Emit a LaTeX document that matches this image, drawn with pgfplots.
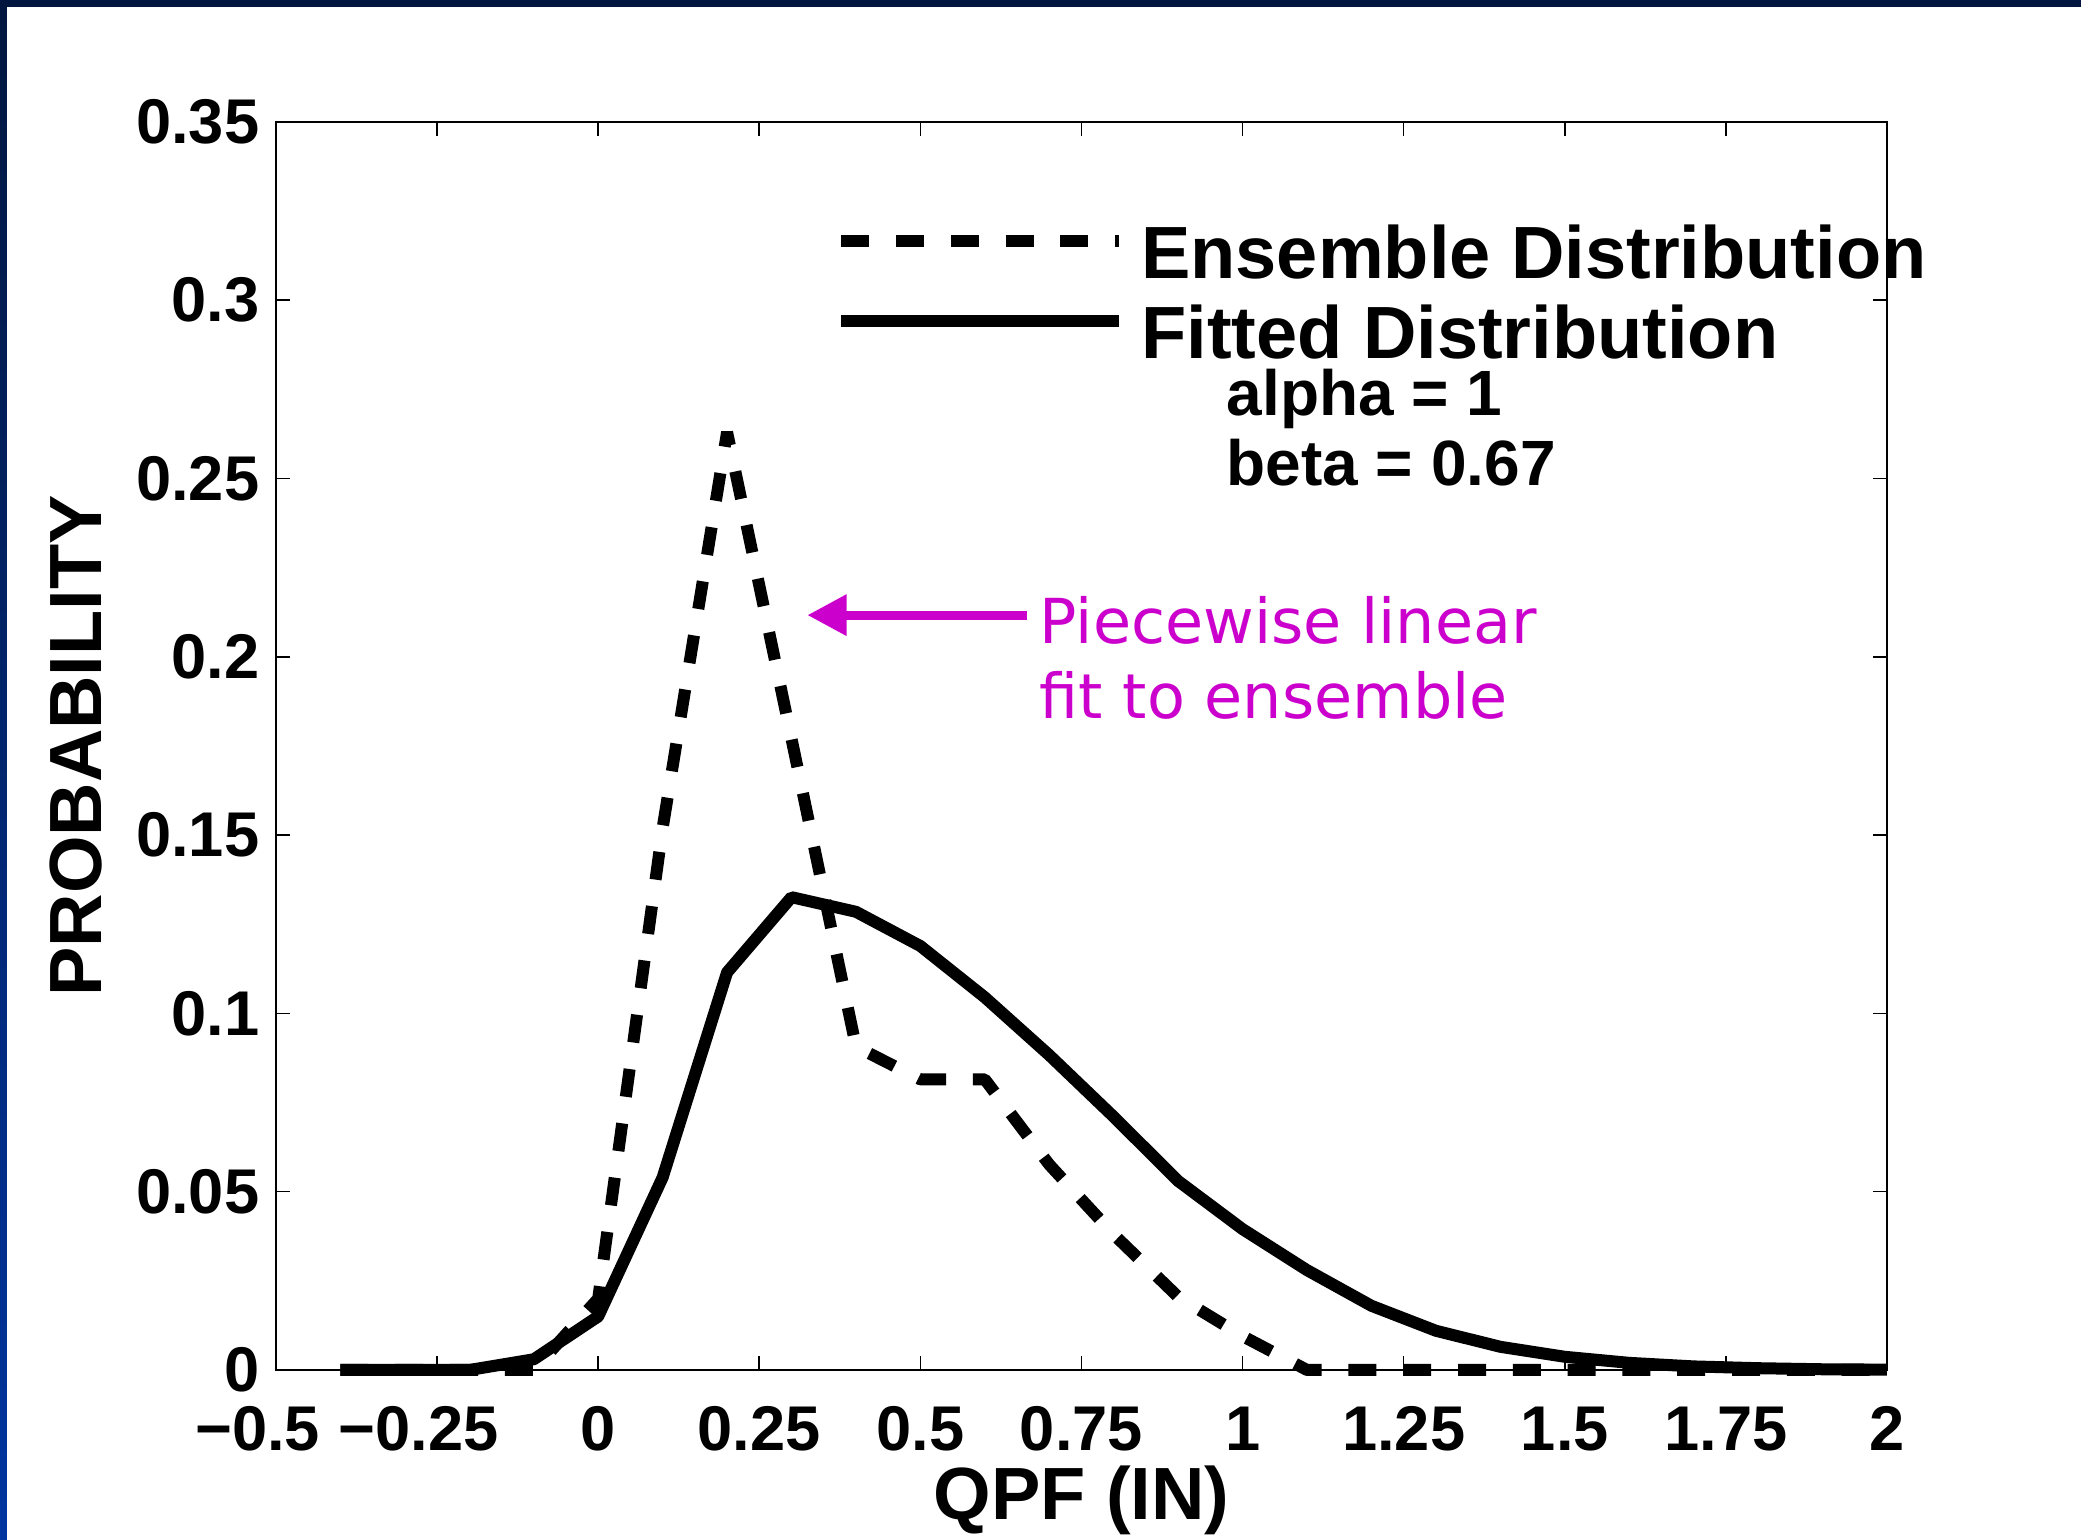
\documentclass[border=0pt]{standalone}
\usepackage{pgfplots}
\pgfplotsset{compat=1.18}
\usepackage{fontspec}
\setmainfont{Liberation Sans}
\newfontfamily\dejavu{DejaVu Sans}
\usetikzlibrary{arrows.meta}
\definecolor{navytop}{HTML}{00163F}
\definecolor{navybot}{HTML}{0035A0}
\definecolor{annot}{HTML}{CC00CC}

\begin{document}
\begin{tikzpicture}
\fill[white] (-69pt,-42.5pt) rectangle (451.25pt,342.5pt);
\shade[top color=navytop, bottom color=navybot] (-69pt,-42.5pt) rectangle (-67.25pt,342.5pt);
\fill[navytop] (-69pt,340.75pt) rectangle (451.25pt,342.5pt);
\begin{axis}[
  at={(0,0)}, anchor=south west,
  scale only axis, width=402.75pt, height=312pt,
  xmin=-0.5, xmax=2, ymin=0, ymax=0.35,
  xtick={-0.5,-0.25,0,0.25,0.5,0.75,1,1.25,1.5,1.75,2},
  xticklabels={\llap{−}0.5,\llap{−}0.25,0,0.25,0.5,0.75,1,1.25,1.5,1.75,2},
  ytick={0,0.05,0.1,0.15,0.2,0.25,0.3,0.35},
  yticklabels={0,0.05,0.1,0.15,0.2,0.25,0.3,0.35},
  tick align=inside, major tick length=3.5pt,
  tick style={black, line width=0.4pt},
  axis line style={line width=0.6pt},
  ticklabel style={font=\fontsize{15.8}{18}\selectfont\bfseries},
  xticklabel style={inner ysep=0pt, yshift=-9pt},
  yticklabel style={inner xsep=0pt, xshift=-4pt},
  xlabel={QPF (IN)}, ylabel={PROBABILITY},
  label style={font=\fontsize{18.5}{21}\selectfont\bfseries},
  xlabel style={at={([yshift=-37.3pt]axis description cs:0.5,0)}, anchor=base, inner sep=0pt},
  ylabel style={at={([xshift=-43.5pt]axis description cs:0,0.5)}, anchor=base, inner sep=0pt},
  clip=false,
  legend style={draw=none, fill=none, inner sep=0pt, at={(axis cs:0.379,0.3015)}, anchor=west, xshift=-2pt,
    font=\fontsize{18.5}{21}\selectfont\bfseries, row sep=4pt, nodes={inner xsep=2pt, inner ysep=0.5pt, text depth=0.15em},
    /tikz/every odd column/.append style={column sep=2pt}},
  legend cell align=left,
  legend image code/.code={\draw[#1] (0pt,3.5pt) -- (69.5pt,3.5pt);},
]
\addplot[black, line width=3pt, dash pattern=on 7pt off 6.7pt, line join=bevel] coordinates {
(-0.4,0) (-0.3,0) (-0.2,0) (-0.1,0) (0,0.02) (0.1,0.152) (0.2,0.263) (0.3,0.177) (0.4,0.0907)
(0.5,0.0815) (0.6,0.0815) (0.7,0.0576) (0.8,0.038) (0.9,0.0205) (1.0,0.0095) (1.1,0)
(1.2,0) (1.3,0) (1.4,0) (1.5,0) (1.6,0) (1.7,0) (1.8,0) (1.9,0) (2.0,0)};
\addlegendentry{Ensemble Distribution}
\addplot[black, line width=3pt, line join=bevel] coordinates {
(-0.4,0) (-0.3,0) (-0.2,0) (-0.1,0.003) (0,0.015) (0.1,0.054) (0.2,0.1115) (0.3,0.1326) (0.4,0.1285)
(0.5,0.1189) (0.6,0.1045) (0.7,0.0883) (0.8,0.071) (0.9,0.053) (1.0,0.0395) (1.1,0.028)
(1.2,0.018) (1.3,0.011) (1.4,0.0065) (1.5,0.0037) (1.6,0.002) (1.7,0.001) (1.8,0.0005) (1.9,0.0002) (2.0,0.0001)};
\addlegendentry{Fitted Distribution}
\node[anchor=base west, inner sep=0pt, font=\fontsize{16}{19}\selectfont\bfseries] at (axis cs:0.974,0.2677) {alpha = 1};
\node[anchor=base west, inner sep=0pt, font=\fontsize{16}{19}\selectfont\bfseries] at (axis cs:0.974,0.248) {beta = 0.67};
\draw[annot, line width=2.2pt, -{Triangle[length=9.8pt,width=9.8pt]}] (axis cs:0.666,0.2117) -- (axis cs:0.3246,0.2117);
\node[anchor=base west, inner sep=0pt, text=annot, font=\dejavu\fontsize{15.5}{18.6}\selectfont] at (axis cs:0.684,0.2037) {Piecewise linear};
\node[anchor=base west, inner sep=0pt, text=annot, font=\dejavu\fontsize{15.5}{18.6}\selectfont] at (axis cs:0.684,0.1828) {fit to ensemble};
\end{axis}
\end{tikzpicture}
\end{document}
